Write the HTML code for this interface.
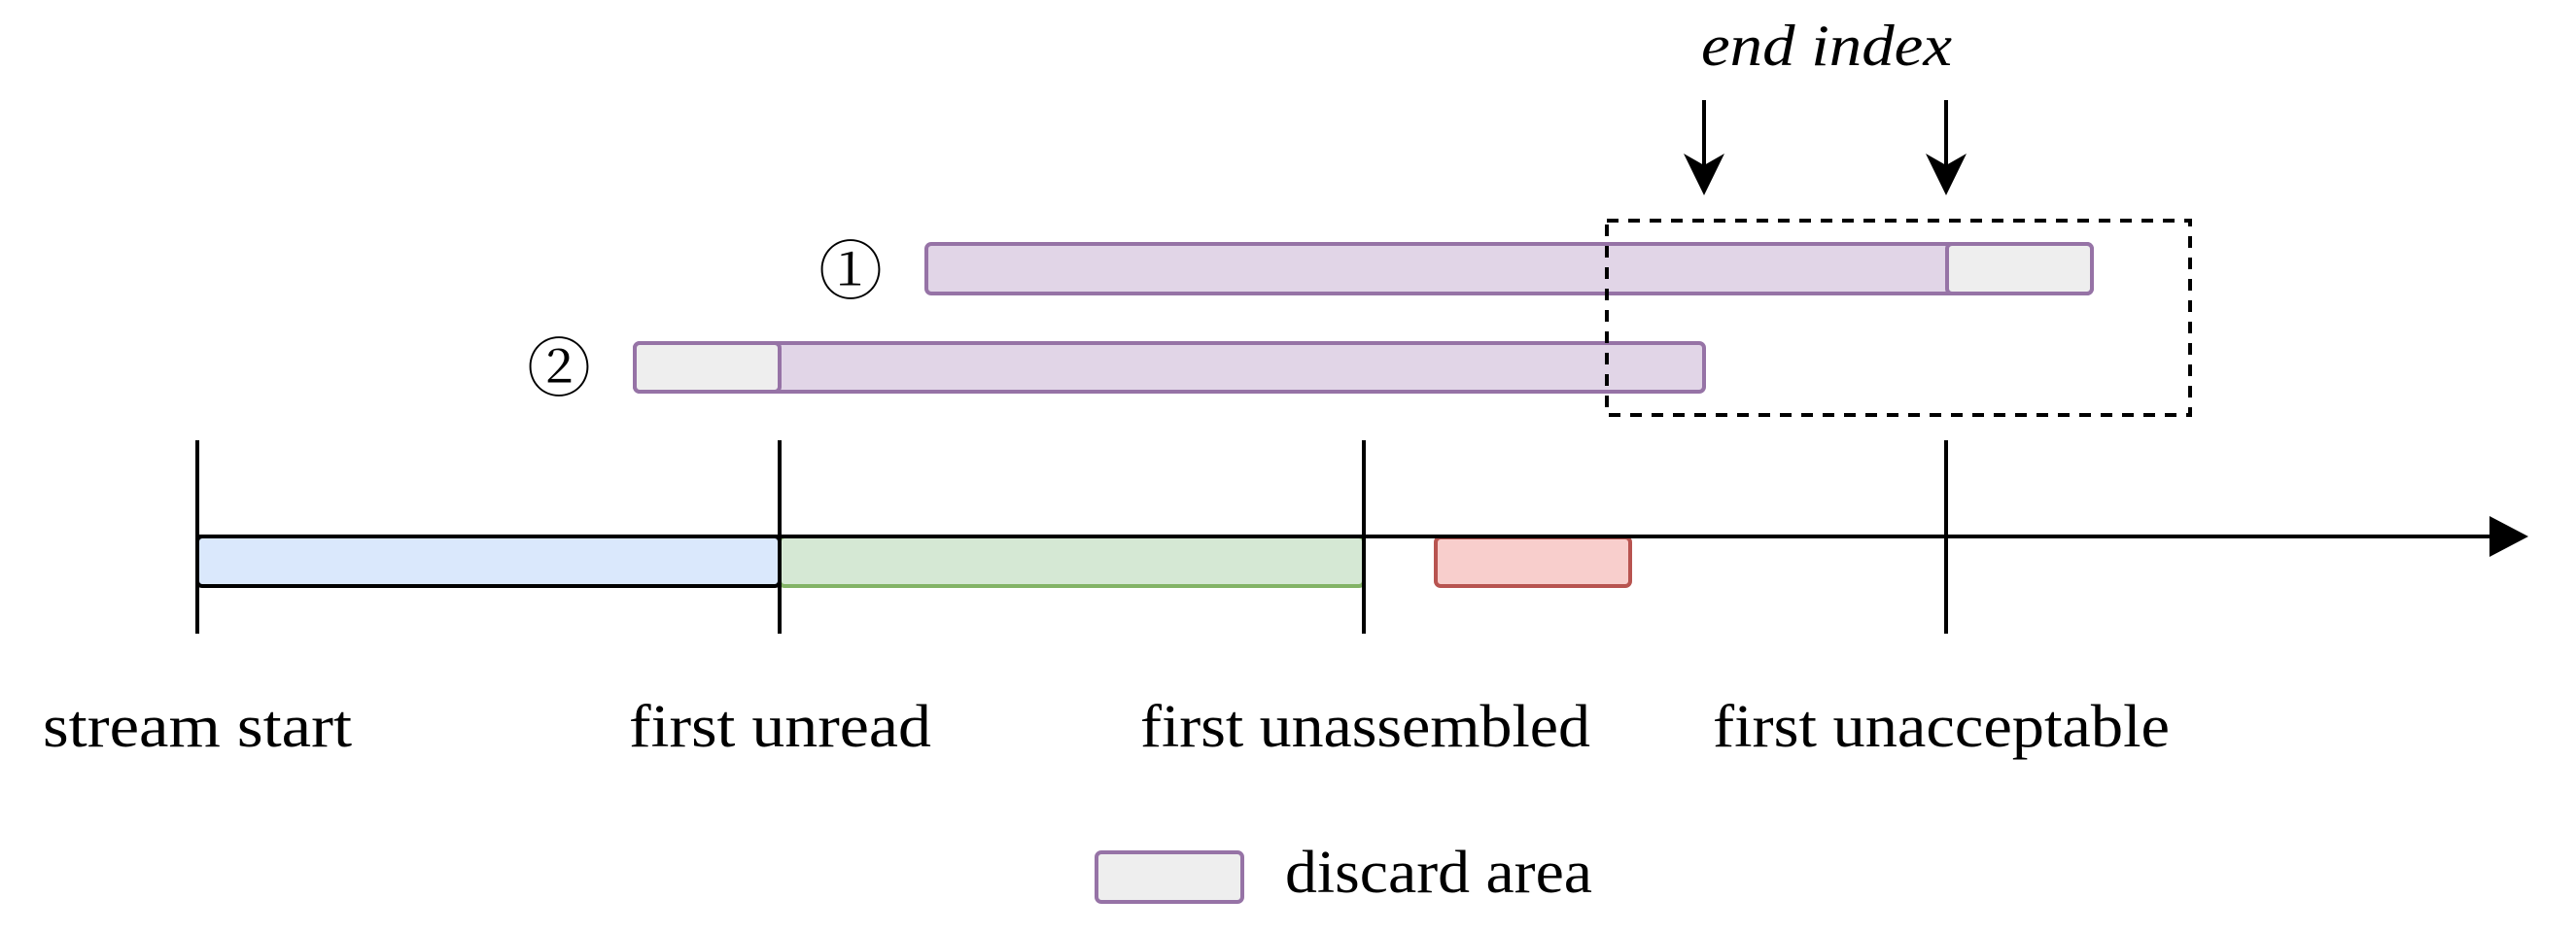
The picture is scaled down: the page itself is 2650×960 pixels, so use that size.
<!DOCTYPE html>
<html><head><meta charset="utf-8"><style>html,body{margin:0;padding:0;background:#fff}svg{display:block}</style></head>
<body>
<svg width="2650" height="960" viewBox="0 0 2650 960" xmlns="http://www.w3.org/2000/svg" font-family="Liberation Serif, serif">
<rect x="953" y="251" width="1199" height="51" rx="5" fill="#e1d5e7" stroke="#9673a6" stroke-width="4"/>
<rect x="2003" y="251" width="149" height="51" rx="5" fill="#eeeeee" stroke="#9673a6" stroke-width="4"/>
<rect x="653" y="353" width="1100" height="50" rx="5" fill="#e1d5e7" stroke="#9673a6" stroke-width="4"/>
<rect x="653" y="353" width="149" height="50" rx="5" fill="#eeeeee" stroke="#9673a6" stroke-width="4"/>
<rect x="1653" y="227" width="600" height="200" fill="none" stroke="#000" stroke-width="4" stroke-dasharray="12 10"/>
<line x1="1753" y1="103" x2="1753" y2="180" stroke="#000" stroke-width="4"/>
<path d="M1753 201 L1732 158 L1753 170 L1774 158 Z" fill="#000"/>
<line x1="2002" y1="103" x2="2002" y2="180" stroke="#000" stroke-width="4"/>
<path d="M2002 201 L1981 158 L2002 170 L2023 158 Z" fill="#000"/>
<text x="1750" y="67" font-size="60" font-style="italic" textLength="258" lengthAdjust="spacingAndGlyphs">end index</text>
<text x="875" y="302" font-size="66" text-anchor="middle" font-family="Noto Serif CJK SC, Noto Sans CJK SC, serif">①</text>
<text x="575" y="402" font-size="66" text-anchor="middle" font-family="Noto Serif CJK SC, Noto Sans CJK SC, serif">②</text>
<rect x="203" y="552" width="599" height="51" rx="5" fill="#dae8fc" stroke="#000" stroke-width="4"/>
<rect x="802" y="552" width="601" height="51" rx="5" fill="#d5e8d4" stroke="#82b366" stroke-width="4"/>
<rect x="1477" y="553" width="200" height="50" rx="5" fill="#f8cecc" stroke="#b85450" stroke-width="4"/>
<line x1="203" y1="552" x2="2570" y2="552" stroke="#000" stroke-width="4"/>
<path d="M2601 552 L2561 531 L2561 573 Z" fill="#000"/>
<g stroke="#000" stroke-width="4">
<line x1="203" y1="453" x2="203" y2="652"/>
<line x1="802" y1="453" x2="802" y2="652"/>
<line x1="1403" y1="453" x2="1403" y2="652"/>
<line x1="2002" y1="453" x2="2002" y2="652"/>
</g>
<g font-size="62" fill="#000">
<text x="44" y="768" textLength="318" lengthAdjust="spacingAndGlyphs">stream start</text>
<text x="647" y="768" textLength="311" lengthAdjust="spacingAndGlyphs">first unread</text>
<text x="1173" y="768" textLength="463" lengthAdjust="spacingAndGlyphs">first unassembled</text>
<text x="1762" y="768" textLength="470" lengthAdjust="spacingAndGlyphs">first unacceptable</text>
<text x="1322" y="918" textLength="316" lengthAdjust="spacingAndGlyphs">discard area</text>
</g>
<rect x="1128" y="877" width="150" height="51" rx="5" fill="#eeeeee" stroke="#9673a6" stroke-width="4"/>
</svg>
</body></html>
